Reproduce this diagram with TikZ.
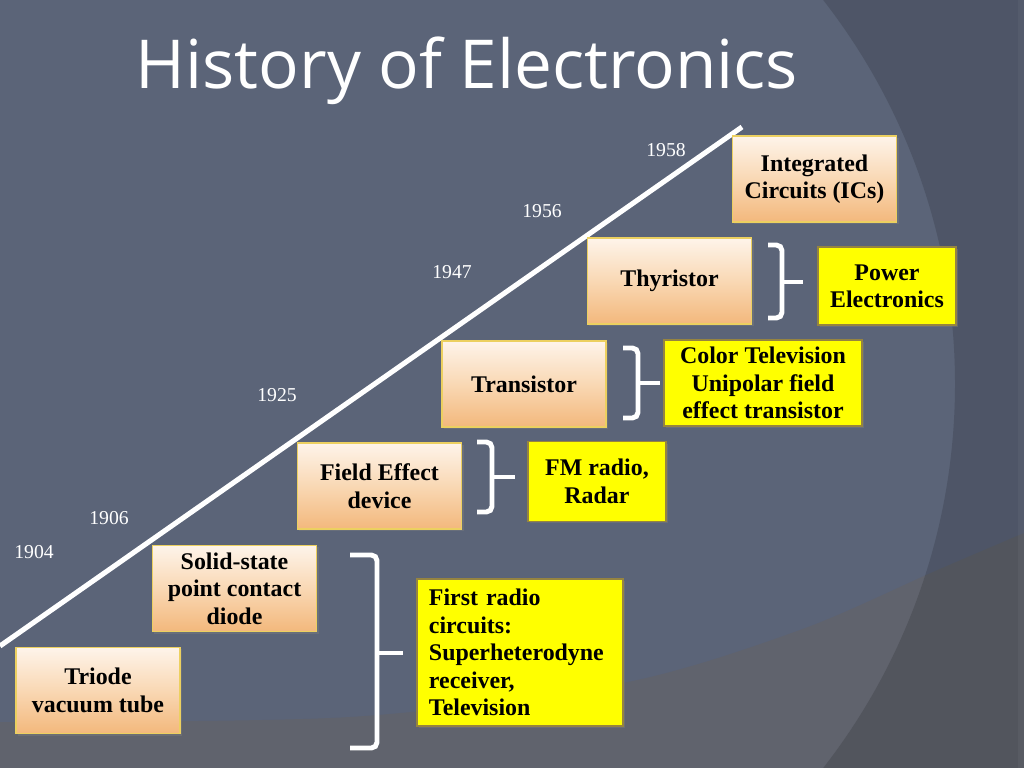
\documentclass[tikz,border=0pt]{standalone}
\usepackage{fontspec}
\setmainfont{Liberation Serif}
\newfontfamily\titlefont{Open Sans}
\usetikzlibrary{shadows}
\definecolor{slate}{RGB}{91,100,120}
\definecolor{slatelow}{RGB}{96,99,109}
\definecolor{peachtop}{RGB}{254,244,234}
\definecolor{peachmid}{RGB}{249,216,180}
\definecolor{peachbot}{RGB}{243,184,124}
\definecolor{peachline}{RGB}{236,208,96}
\definecolor{hiyellow}{RGB}{255,255,0}
\definecolor{hiline}{RGB}{150,132,64}

\begin{document}
\begin{tikzpicture}[x=0.025cm, y=-0.025cm,
  era/.style={draw=peachline, line width=0.8pt, top color=peachtop, bottom color=peachbot, middle color=peachmid,
    minimum width=4.1cm, minimum height=2.15cm, align=center, inner sep=2pt,
    font=\bfseries\fontsize{17}{19.5}\selectfont,
    drop shadow={shadow xshift=0.5mm, shadow yshift=-0.5mm, opacity=0.4}},
  impact/.style={draw=hiline, line width=0.8pt, fill=hiyellow, align=center, inner sep=2pt,
    font=\bfseries\fontsize{17}{19.5}\selectfont,
    drop shadow={shadow xshift=0.5mm, shadow yshift=-0.5mm, opacity=0.4}},
  year/.style={text=white, font=\fontsize{14}{16}\selectfont},
  curl/.style={draw=white, line width=3.5pt, rounded corners=4pt},
  timeline/.style={draw=white, line width=3.6pt}]
  \useasboundingbox (0,0) rectangle (1024,768);
  \begin{scope}
    \clip (0,0) rectangle (1024,768);
    \fill[slate] (0,0) rectangle (1024,768);
    \fill[slatelow] (0,768) -- plot[smooth] coordinates {(0,722) (350,717) (623,683) (800,630) (933,572) (1024,533)} -- (1024,768) -- cycle;
    \fill[black, opacity=0.14, even odd rule] (-20,-20) rectangle (1044,788) (330,384) circle [radius=625];
    \fill[white, opacity=0.04] (1018,0) rectangle (1024,768);
  \end{scope}

  \node[text=white, font=\titlefont\fontsize{48}{56}\selectfont, anchor=base] (head) at (467,89) {History of Electronics};

  \coordinate (t0) at (0,646);
  \coordinate (t1) at (742,127);
  \draw[timeline] (t0) -- (t1);

  \node[year] (y1904) at (34,552) {1904};
  \node[year] (y1906) at (109,518) {1906};
  \node[year] (y1925) at (277,395) {1925};
  \node[year] (y1947) at (452,272) {1947};
  \node[year] (y1956) at (542,211) {1956};
  \node[year] (y1958) at (666,150) {1958};

  \node[era] (triode) at (98,690.5) {Triode\\vacuum tube};
  \node[era] (diode) at (234.5,588.5) {Solid-state\\point contact\\diode};
  \node[era] (fet) at (379.5,486) {Field Effect\\device};
  \node[era] (trans) at (524,384) {Transistor};
  \node[era] (thyr) at (669.5,281) {Thyristor};
  \node[era] (ic) at (814.5,179) {Integrated\\Circuits (ICs)};

  \node[impact, minimum width=3.45cm, minimum height=1.95cm] (power) at (887,286) {Power\\Electronics};
  \node[impact, minimum width=4.95cm, minimum height=2.15cm] (tv) at (763,383) {Color Television\\Unipolar field\\effect transistor};
  \node[impact, minimum width=3.45cm, minimum height=1.98cm] (fm) at (597,481.5) {FM radio,\\Radar};
  \node[impact, minimum width=5.15cm, minimum height=3.675cm, text width=4.55cm, align=left] (radio) at (520,652.5)
    {First radio\\circuits:\\Superheterodyne\\receiver,\\Television};

  \draw[curl] (768,245) -- (782,245) -- (782,318) -- (768,318);
  \draw[curl] (782,282) -- (803,282);
  \draw[curl] (623,348) -- (638,348) -- (638,418) -- (623,418);
  \draw[curl] (638,383) -- (660,383);
  \draw[curl] (477,442) -- (492,442) -- (492,512) -- (477,512);
  \draw[curl] (492,477) -- (515,477);
  \draw[curl] (350,555) -- (377,555) -- (377,748) -- (350,748);
  \draw[curl] (377,653) -- (403,653);
\end{tikzpicture}
\end{document}
